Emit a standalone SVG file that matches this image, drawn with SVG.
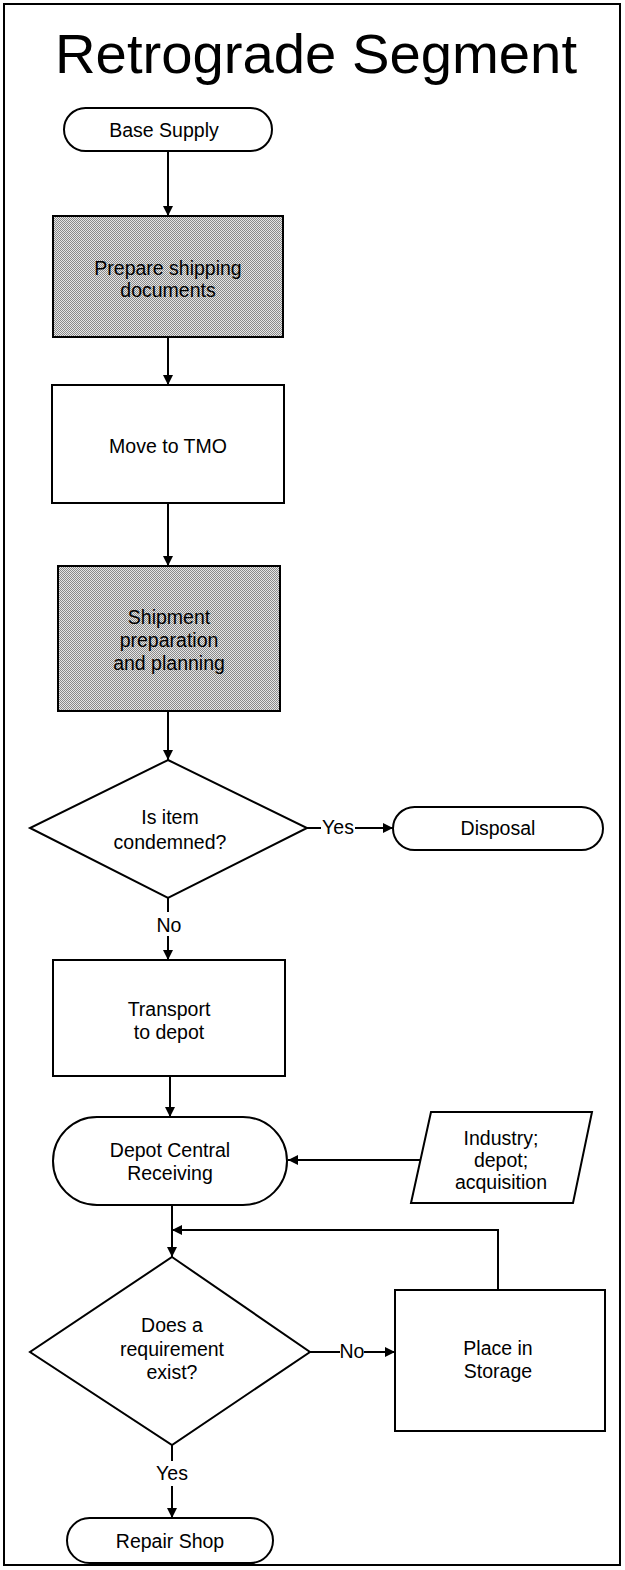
<svg xmlns="http://www.w3.org/2000/svg" width="625" height="1570" viewBox="0 0 625 1570">
  <style>
    .shape { fill: #fff; stroke: #000; stroke-width: 2; }
    .shaded { fill: url(#dots); stroke: #000; stroke-width: 2; }
    .lbl { font-family: "Liberation Sans", Arial, sans-serif; font-size: 19.5px; fill: #000; text-anchor: middle; }
    .title { font-family: "Liberation Sans", Arial, sans-serif; font-size: 55px; fill: #000; text-anchor: middle; }
    .edge { fill: none; stroke: #000; stroke-width: 2; }
  </style>
  <defs>
    <!-- fine halftone used for the shaded process boxes -->
    <pattern id="dots" width="2" height="2" patternUnits="userSpaceOnUse">
      <rect width="2" height="2" fill="#e6e6e6"/>
      <rect width="1" height="1" fill="#8a8a8a"/>
      <rect x="1" y="1" width="1" height="1" fill="#8a8a8a"/>
    </pattern>
    <marker id="arrow" viewBox="0 0 10 10" refX="10" refY="5" markerWidth="10" markerHeight="10" markerUnits="userSpaceOnUse" orient="auto">
      <path d="M0,0 L10,5 L0,10 z" fill="#000"/>
    </marker>
  </defs>

  <rect width="625" height="1570" fill="#fff"/>
  <rect x="4" y="4" width="616" height="1561" fill="none" stroke="#000" stroke-width="2"/>

  <text class="title" x="316" y="73" textLength="522" lengthAdjust="spacingAndGlyphs">Retrograde Segment</text>

  <g id="connectors">
    <line class="edge" x1="168" y1="152" x2="168" y2="216" marker-end="url(#arrow)"/>
    <line class="edge" x1="168" y1="337" x2="168" y2="385" marker-end="url(#arrow)"/>
    <line class="edge" x1="168" y1="503" x2="168" y2="566" marker-end="url(#arrow)"/>
    <line class="edge" x1="168" y1="711" x2="168" y2="760" marker-end="url(#arrow)"/>
    <line class="edge" x1="307" y1="828" x2="321" y2="828"/>
    <text class="lbl" x="338" y="834" font-size="17">Yes</text>
    <line class="edge" x1="355" y1="828" x2="393" y2="828" marker-end="url(#arrow)"/>
    <line class="edge" x1="168" y1="898" x2="168" y2="912"/>
    <text class="lbl" x="169" y="932" font-size="18">No</text>
    <line class="edge" x1="168" y1="936" x2="168" y2="960" marker-end="url(#arrow)"/>
    <line class="edge" x1="170" y1="1076" x2="170" y2="1117" marker-end="url(#arrow)"/>
    <line class="edge" x1="421" y1="1160" x2="288" y2="1160" marker-end="url(#arrow)"/>
    <line class="edge" x1="172" y1="1205" x2="172" y2="1257" marker-end="url(#arrow)"/>
    <polyline class="edge" points="498,1290 498,1230 172,1230" marker-end="url(#arrow)"/>
    <line class="edge" x1="310" y1="1352" x2="340" y2="1352"/>
    <text class="lbl" x="352" y="1358" font-size="17">No</text>
    <line class="edge" x1="364" y1="1352" x2="395" y2="1352" marker-end="url(#arrow)"/>
    <line class="edge" x1="172" y1="1445" x2="172" y2="1461"/>
    <text class="lbl" x="172" y="1480">Yes</text>
    <line class="edge" x1="172" y1="1486" x2="172" y2="1518" marker-end="url(#arrow)"/>
  </g>

  <g id="base-supply">
    <rect class="shape" x="64" y="108" width="208" height="43" rx="21.5"/>
    <text class="lbl" x="164" y="137">Base Supply</text>
  </g>

  <g id="prepare-docs">
    <rect class="shaded" x="53" y="216" width="230" height="121"/>
    <text class="lbl" x="168" y="275">Prepare shipping</text>
    <text class="lbl" x="168" y="297">documents</text>
  </g>

  <g id="move-tmo">
    <rect class="shape" x="52" y="385" width="232" height="118"/>
    <text class="lbl" x="168" y="453">Move to TMO</text>
  </g>

  <g id="shipment-prep">
    <rect class="shaded" x="58" y="566" width="222" height="145"/>
    <text class="lbl" x="169" y="624">Shipment</text>
    <text class="lbl" x="169" y="647">preparation</text>
    <text class="lbl" x="169" y="670">and planning</text>
  </g>

  <g id="condemned">
    <polygon class="shape" points="168,760 307,828 168,898 30,828"/>
    <text class="lbl" x="170" y="824">Is item</text>
    <text class="lbl" x="170" y="849">condemned?</text>
  </g>

  <g id="disposal">
    <rect class="shape" x="393" y="807" width="210" height="43" rx="21.5"/>
    <text class="lbl" x="498" y="835">Disposal</text>
  </g>

  <g id="transport">
    <rect class="shape" x="53" y="960" width="232" height="116"/>
    <text class="lbl" x="169" y="1016">Transport</text>
    <text class="lbl" x="169" y="1039">to depot</text>
  </g>

  <g id="central-receiving">
    <rect class="shape" x="53" y="1117" width="234" height="88" rx="44"/>
    <text class="lbl" x="170" y="1157">Depot Central</text>
    <text class="lbl" x="170" y="1180">Receiving</text>
  </g>

  <g id="sources">
    <polygon class="shape" points="431,1112 592,1112 573,1203 411,1203"/>
    <text class="lbl" x="501" y="1145">Industry;</text>
    <text class="lbl" x="501" y="1167">depot;</text>
    <text class="lbl" x="501" y="1189">acquisition</text>
  </g>

  <g id="requirement">
    <polygon class="shape" points="172,1257 310,1352 172,1445 30,1352"/>
    <text class="lbl" x="172" y="1332">Does a</text>
    <text class="lbl" x="172" y="1356">requirement</text>
    <text class="lbl" x="172" y="1379">exist?</text>
  </g>

  <g id="storage">
    <rect class="shape" x="395" y="1290" width="210" height="141"/>
    <text class="lbl" x="498" y="1355">Place in</text>
    <text class="lbl" x="498" y="1378">Storage</text>
  </g>

  <g id="repair-shop">
    <rect class="shape" x="67" y="1518" width="206" height="45" rx="22.5"/>
    <text class="lbl" x="170" y="1548">Repair Shop</text>
  </g>
</svg>
